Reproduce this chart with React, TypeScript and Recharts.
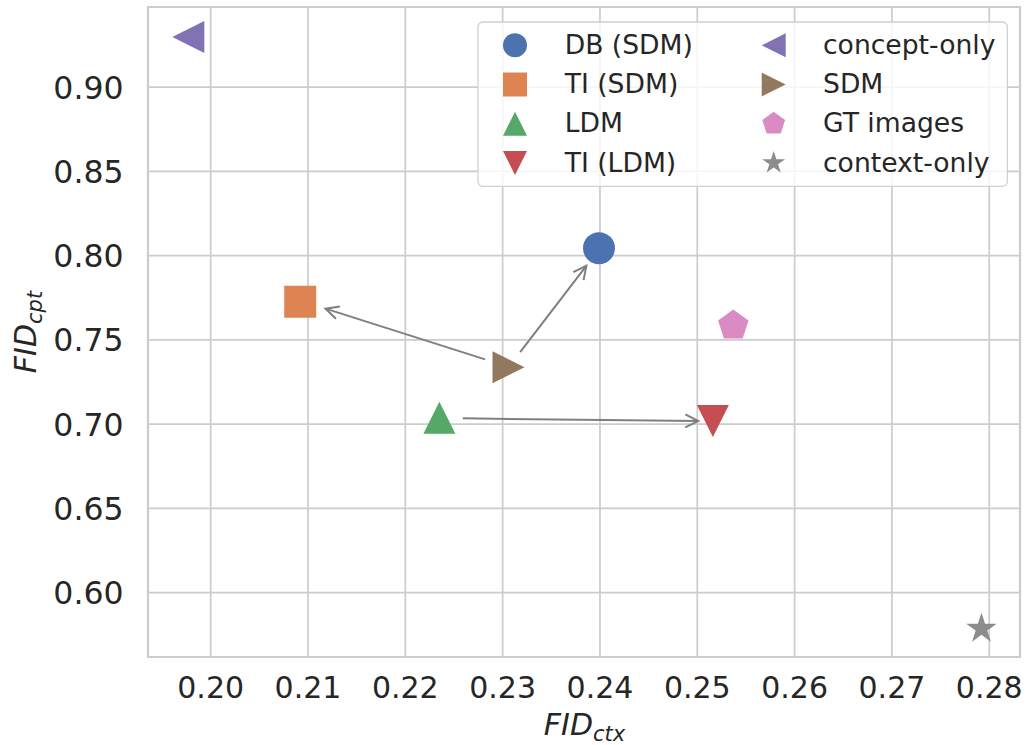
import React from 'react';
import {
  ScatterChart,
  Scatter,
  XAxis,
  YAxis,
  CartesianGrid,
  ReferenceLine,
  ReferenceArea,
  Legend,
} from 'recharts';

// ---------- data ----------
const methods = ['DB (SDM)', 'TI (SDM)', 'LDM', 'TI (LDM)', 'concept-only', 'SDM', 'GT images', 'context-only'];
const fidCtx = [0.2399, 0.2092, 0.2235, 0.2516, 0.1977, 0.2306, 0.2537, 0.2792];
const fidCpt = [0.8044, 0.7726, 0.7037, 0.7019, 0.9297, 0.7338, 0.7585, 0.5786];

// arrows (data coordinates of visible start / end)
const arrowStartX = [0.2282, 0.2318, 0.2259];
const arrowStartY = [0.7384, 0.7427, 0.7034];
const arrowEndX = [0.2118, 0.2386, 0.2501];
const arrowEndY = [0.7685, 0.7939, 0.7018];

const xTicks = [0.2, 0.21, 0.22, 0.23, 0.24, 0.25, 0.26, 0.27, 0.28];
const yTicks = [0.6, 0.65, 0.7, 0.75, 0.8, 0.85, 0.9];
const xDomain: [number, number] = [0.19356, 0.28316];
const yDomain: [number, number] = [0.5618, 0.9475];

// ---------- styles ----------
const markerKinds = ['circle', 'square', 'triUp', 'triDown', 'triLeft', 'triRight', 'pentagon', 'star'];
const markerColors = ['#4C72B0', '#DD8452', '#55A868', '#C44E52', '#8172B3', '#937860', '#DA8BC3', '#8C8C8C'];
const FONT = "'DejaVu Sans', sans-serif";
const TEXT = '#262626';
const GRID = '#cccccc';

function poly(pts: number[][], color: string) {
  return <polygon points={pts.map((p) => `${p[0]},${p[1]}`).join(' ')} fill={color} />;
}

function drawMarker(kind: string, cx: number, cy: number, s: number, color: string) {
  const h = s / 2;
  switch (kind) {
    case 'circle':
      return <circle cx={cx} cy={cy} r={h} fill={color} />;
    case 'square':
      return <rect x={cx - h} y={cy - h} width={s} height={s} fill={color} />;
    case 'triUp':
      return poly([[cx, cy - h], [cx - h, cy + h], [cx + h, cy + h]], color);
    case 'triDown':
      return poly([[cx, cy + h], [cx - h, cy - h], [cx + h, cy - h]], color);
    case 'triLeft':
      return poly([[cx - h, cy], [cx + h, cy - h], [cx + h, cy + h]], color);
    case 'triRight':
      return poly([[cx + h, cy], [cx - h, cy - h], [cx - h, cy + h]], color);
    case 'pentagon': {
      const pts: number[][] = [];
      for (let k = 0; k < 5; k++) {
        const a = ((-90 + 72 * k) * Math.PI) / 180;
        pts.push([cx + h * Math.cos(a), cy + h * Math.sin(a)]);
      }
      return poly(pts, color);
    }
    case 'star': {
      const pts: number[][] = [];
      for (let k = 0; k < 10; k++) {
        const r = k % 2 === 0 ? h : h * 0.381966;
        const a = ((-90 + 36 * k) * Math.PI) / 180;
        pts.push([cx + r * Math.cos(a), cy + r * Math.sin(a)]);
      }
      return poly(pts, color);
    }
    default:
      return <circle cx={cx} cy={cy} r={h} fill={color} />;
  }
}

const ArrowShape = (props: any) => {
  const { x1, y1, x2, y2 } = props;
  const dx = x2 - x1;
  const dy = y2 - y1;
  const len = Math.hypot(dx, dy) || 1;
  const ux = dx / len;
  const uy = dy / len;
  const hl = 13;
  const hw = 6.5;
  const bx = x2 - ux * hl;
  const by = y2 - uy * hl;
  const p1 = [bx - uy * hw, by + ux * hw];
  const p2 = [bx + uy * hw, by - ux * hw];
  return (
    <g>
      <line x1={x1} y1={y1} x2={x2} y2={y2} stroke="#7f7f7f" strokeWidth={2} />
      <polyline
        points={`${p1[0]},${p1[1]} ${x2},${y2} ${p2[0]},${p2[1]}`}
        fill="none"
        stroke="#7f7f7f"
        strokeWidth={2}
        strokeLinejoin="miter"
      />
    </g>
  );
};

const XTick = (props: any) => {
  const { x, y, payload } = props;
  return (
    <text x={x} y={y} dy={33} textAnchor="middle" fontFamily={FONT} fontSize={30} fill={TEXT}>
      {Number(payload.value).toFixed(2)}
    </text>
  );
};

const YTick = (props: any) => {
  const { x, y, payload } = props;
  return (
    <text x={x - 16.5} y={y} dy={11.5} textAnchor="end" fontFamily={FONT} fontSize={31.5} fill={TEXT}>
      {Number(payload.value).toFixed(2)}
    </text>
  );
};

const XLabel = () => (
  <text x={584.5} y={735} textAnchor="middle" fontFamily={FONT} fontStyle="italic" fontSize={30} fill={TEXT}>
    <tspan>FID</tspan>
    <tspan fontSize={21} dy={6}>ctx</tspan>
  </text>
);

const YLabel = () => (
  <text
    x={36}
    y={332}
    transform="rotate(-90, 36, 332)"
    textAnchor="middle"
    fontFamily={FONT}
    fontStyle="italic"
    fontSize={30}
    fill={TEXT}
  >
    <tspan>FID</tspan>
    <tspan fontSize={21} dy={6}>cpt</tspan>
  </text>
);

const LegendContent = () => (
  <svg width={532} height={167} style={{ display: 'block' }}>
    <rect x={1} y={1} width={529.4} height={164.3} rx={5} ry={5} fill="rgba(255,255,255,0.8)" stroke="#d0d0d0" strokeWidth={1.3} />
    {methods.map((m, i) => {
      const col = Math.floor(i / 4);
      const row = i % 4;
      const mx = col === 0 ? 38 : 296.7;
      const tx = col === 0 ? 87.7 : 346;
      const cy = 24.3 + 39.2 * row;
      return (
        <g key={m}>
          {drawMarker(markerKinds[i], mx, cy, 24, markerColors[i])}
          <text x={tx} y={cy + 8.7} fontFamily={FONT} fontSize={26.6} fill={TEXT}>
            {m}
          </text>
        </g>
      );
    })}
  </svg>
);

export default function App() {
  return (
    <div style={{ position: 'absolute', left: 0, top: 0 }}>
      <ScatterChart width={1027} height={745} margin={{ top: 7, right: 7, bottom: 0, left: 0 }}>
        <CartesianGrid stroke={GRID} strokeWidth={1.7} />
        <XAxis
          type="number"
          dataKey="x"
          domain={xDomain}
          ticks={xTicks}
          allowDataOverflow
          interval={0}
          height={88}
          axisLine={false}
          tickLine={false}
          tick={<XTick />}
          label={<XLabel />}
        />
        <YAxis
          type="number"
          dataKey="y"
          domain={yDomain}
          ticks={yTicks}
          allowDataOverflow
          interval={0}
          width={148}
          axisLine={false}
          tickLine={false}
          tick={<YTick />}
          label={<YLabel />}
        />
        <ReferenceArea
          x1={xDomain[0]}
          x2={xDomain[1]}
          y1={yDomain[0]}
          y2={yDomain[1]}
          fill="none"
          fillOpacity={0}
          stroke={GRID}
          strokeWidth={2.2}
          ifOverflow="visible"
        />
        {arrowStartX.map((sx, i) => (
          <ReferenceLine
            key={`arrow-${i}`}
            segment={[
              { x: sx, y: arrowStartY[i] },
              { x: arrowEndX[i], y: arrowEndY[i] },
            ]}
            ifOverflow="visible"
            shape={ArrowShape}
          />
        ))}
        {methods.map((m, i) => (
          <Scatter
            key={m}
            name={m}
            data={[{ x: fidCtx[i], y: fidCpt[i] }]}
            fill={markerColors[i]}
            isAnimationActive={false}
            shape={(p: any) => drawMarker(markerKinds[i], p.cx, p.cy, 32, markerColors[i])}
          />
        ))}
        <Legend
          verticalAlign="middle"
          align="center"
          layout="horizontal"
          content={<LegendContent />}
          wrapperStyle={{ position: 'absolute', left: 477.3, top: 20.7, width: 532, height: 167 }}
        />
      </ScatterChart>
    </div>
  );
}
